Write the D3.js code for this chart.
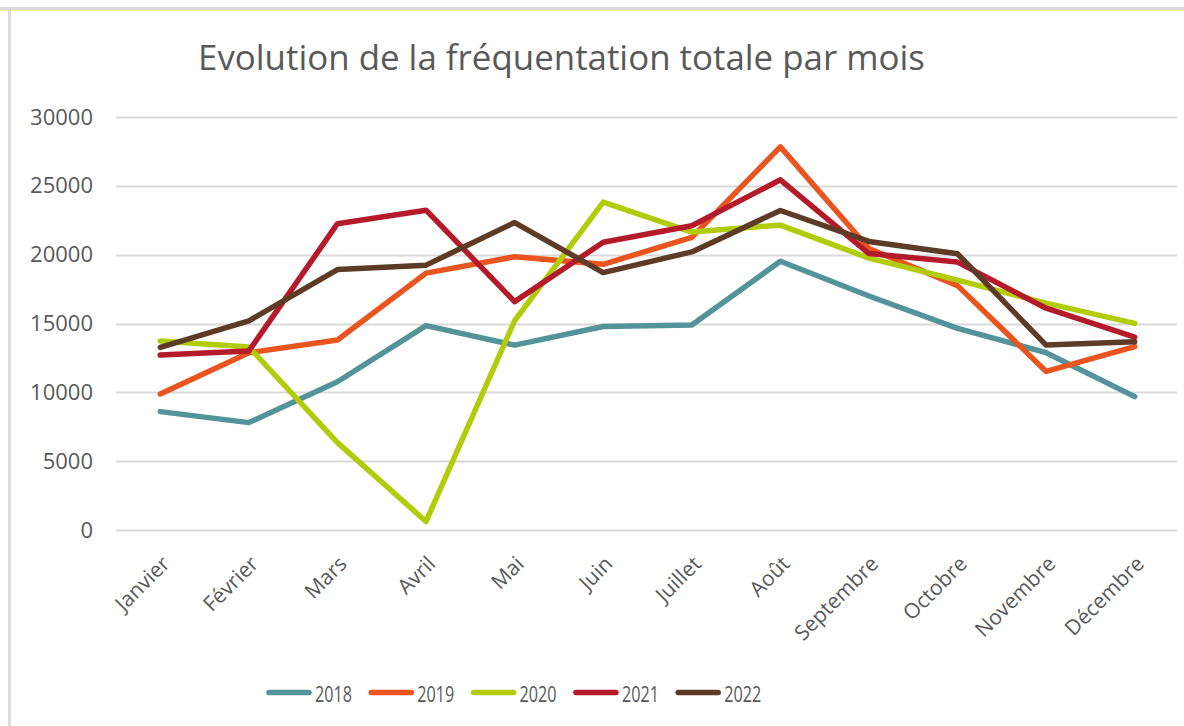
<!DOCTYPE html>
<html>
<head>
<meta charset="utf-8">
<script src="https://cdn.jsdelivr.net/npm/d3@7"></script>
<style>
  body { margin: 0; background: #ffffff; }
  svg { display: block; }
</style>
</head>
<body>
<div id="chart"></div>
<script>
// data
var months = ["Janvier", "Février", "Mars", "Avril", "Mai", "Juin", "Juillet", "Août", "Septembre", "Octobre", "Novembre", "Décembre"];
var years = ["2018", "2019", "2020", "2021", "2022"];
var yTicks = [0, 5000, 10000, 15000, 20000, 25000, 30000];

var v2018 = [8600, 7800, 10770, 14850, 13430, 14780, 14890, 19520, 17000, 14650, 12880, 9690];
var v2019 = [9880, 12880, 13800, 18660, 19850, 19300, 21260, 27830, 20450, 17750, 11520, 13320];
var v2020 = [13730, 13300, 6350, 620, 15200, 23820, 21640, 22150, 19750, 18150, 16480, 15010];
var v2021 = [12710, 13000, 22250, 23230, 16590, 20900, 22100, 25440, 20080, 19460, 16110, 14010];
var v2022 = [13270, 15190, 18920, 19240, 22330, 18700, 20200, 23210, 20960, 20060, 13430, 13680];

var colors = ["#53939a", "#e9541f", "#b1cc0b", "#b51a2a", "#5e3b26"];

(function () {

    var W = 1184, H = 726;

    var svg = d3.select("#chart").append("svg")
        .attr("width", W)
        .attr("height", H);

    //outer frame lines (top and left edge of the screenshot)
    svg.append("line")
        .attr("x1", 0).attr("x2", W).attr("y1", 8.5).attr("y2", 8.5)
        .attr("stroke", "#dadada").attr("stroke-width", 3);
    svg.append("line")
        .attr("x1", 0).attr("x2", W).attr("y1", 10.5).attr("y2", 10.5)
        .attr("stroke", "#f3ee9a").attr("stroke-width", 1);
    svg.append("line")
        .attr("x1", 9.5).attr("x2", 9.5).attr("y1", 10).attr("y2", H)
        .attr("stroke", "#dcdcdc").attr("stroke-width", 3);

    //scales
    var x = d3.scalePoint()
        .domain(months)
        .range([116, 1179])
        .padding(0.5);

    var y = d3.scaleLinear()
        .domain([0, 30000])
        .range([530, 117]);

    //gridlines
    svg.append("g").selectAll("line")
        .data(yTicks)
        .enter().append("line")
        .attr("x1", 116)
        .attr("x2", 1177)
        .attr("y1", function (d) { return Math.round(y(d)) + 0.5; })
        .attr("y2", function (d) { return Math.round(y(d)) + 0.5; })
        .attr("stroke", "#d9d9d9")
        .attr("stroke-width", 2);

    //y axis labels
    var yAxis = d3.axisLeft(y)
        .tickValues(yTicks)
        .tickSize(0)
        .tickPadding(23)
        .tickFormat(d3.format("d"));

    var gy = svg.append("g")
        .attr("transform", "translate(116,0)")
        .call(yAxis);
    gy.select(".domain").remove();
    gy.selectAll("text")
        .style("font-family", "Open Sans")
        .style("font-size", "22px")
        .attr("fill", "#595959");

    //x axis labels, rotated
    var xAxis = d3.axisBottom(x).tickSize(0).tickPadding(0);
    var gx = svg.append("g")
        .attr("transform", "translate(0,530)")
        .call(xAxis);
    gx.select(".domain").remove();
    gx.selectAll("text")
        .style("font-family", "Open Sans")
        .style("font-size", "21px")
        .attr("fill", "#595959")
        .attr("text-anchor", "end")
        .attr("y", 0)
        .attr("dy", "0.35em")
        .attr("transform", "translate(5,30) rotate(-45)");

    //lines
    var series = [v2018, v2019, v2020, v2021, v2022];
    var line = d3.line()
        .x(function (d, i) { return x(months[i]); })
        .y(function (d) { return y(d); });

    svg.append("g").selectAll("path")
        .data(series)
        .enter().append("path")
        .attr("d", line)
        .attr("fill", "none")
        .attr("stroke", function (d, i) { return colors[i]; })
        .attr("stroke-width", 5.5)
        .attr("stroke-linejoin", "round")
        .attr("stroke-linecap", "round");

    //title
    svg.append("text")
        .attr("x", 198)
        .attr("y", 70)
        .attr("textLength", 727)
        .attr("lengthAdjust", "spacingAndGlyphs")
        .style("font-family", "Open Sans")
        .style("font-size", "34px")
        .attr("fill", "#595959")
        .text("Evolution de la fréquentation totale par mois");

    //legend
    var legend = svg.append("g").selectAll("g")
        .data(years)
        .enter().append("g")
        .attr("transform", function (d, i) { return "translate(" + (269 + i * 102.3) + ",692.5)"; });

    legend.append("line")
        .attr("x1", 0).attr("x2", 40)
        .attr("y1", 0).attr("y2", 0)
        .attr("stroke", function (d, i) { return colors[i]; })
        .attr("stroke-width", 5.5)
        .attr("stroke-linecap", "round");

    legend.append("text")
        .attr("x", 46)
        .attr("y", 9)
        .attr("textLength", 37)
        .attr("lengthAdjust", "spacingAndGlyphs")
        .style("font-family", "Open Sans")
        .style("font-size", "22px")
        .attr("fill", "#595959")
        .text(function (d) { return d; });

})();
</script>
</body>
</html>
